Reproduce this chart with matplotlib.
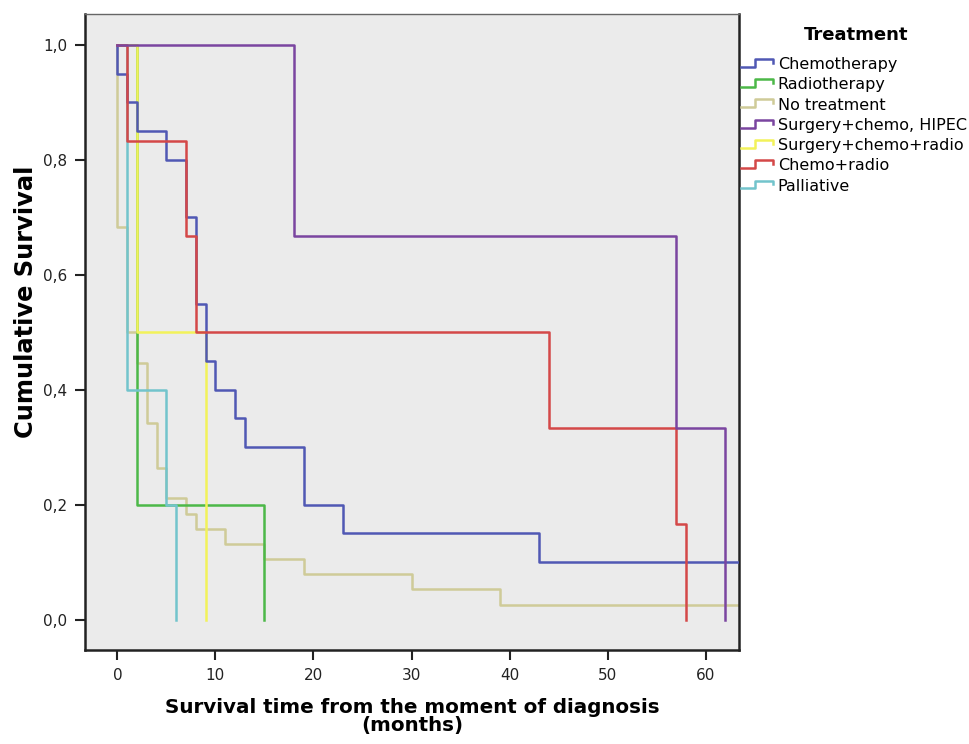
import matplotlib
matplotlib.use("Agg")
import matplotlib.pyplot as plt
from matplotlib.lines import Line2D
from matplotlib.legend_handler import HandlerBase
from matplotlib import font_manager

# ---- data (months, cumulative survival after each event) ----
groups = ["Chemotherapy", "Radiotherapy", "No treatment", "Surgery+chemo, HIPEC",
          "Surgery+chemo+radio", "Chemo+radio", "Palliative"]
colors = ["#5058b4", "#4cb848", "#cfcb98", "#7a45a0", "#f2f25a", "#d44848", "#72c4cc"]

chemo_times = [0, 1, 2, 5, 7, 8, 9, 10, 12, 13, 19, 23, 43, 66]
chemo_surv = [0.95, 0.90, 0.85, 0.80, 0.70, 0.55, 0.45, 0.40, 0.35, 0.30, 0.20, 0.15, 0.10, 0.10]

radio_times = [2, 15]
radio_surv = [0.20, 0.0]

none_times = [0, 1, 2, 3, 4, 5, 7, 8, 11, 15, 19, 30, 39, 66]
none_surv = [0.684, 0.500, 0.447, 0.342, 0.263, 0.211, 0.184, 0.158, 0.132, 0.105,
             0.079, 0.053, 0.026, 0.026]

hipec_times = [18, 57, 62]
hipec_surv = [0.667, 0.333, 0.0]

scr_times = [2, 9]
scr_surv = [0.5, 0.0]

chemoradio_times = [1, 7, 8, 44, 57, 58]
chemoradio_surv = [0.833, 0.667, 0.5, 0.333, 0.167, 0.0]

pall_times = [1, 5, 6]
pall_surv = [0.4, 0.2, 0.0]

series_times = [chemo_times, radio_times, none_times, hipec_times, scr_times,
                chemoradio_times, pall_times]
series_surv = [chemo_surv, radio_surv, none_surv, hipec_surv, scr_surv,
               chemoradio_surv, pall_surv]

x_ticks = [0, 10, 20, 30, 40, 50, 60]
y_ticks = [0.0, 0.2, 0.4, 0.6, 0.8, 1.0]

available = {f.name for f in font_manager.fontManager.ttflist}
cond = [f for f in ["DejaVu Sans Condensed", "Liberation Sans Narrow"] if f in available]
label_family = cond + ["DejaVu Sans"]

# ---- figure ----
fig = plt.figure(figsize=(9.7, 7.44), dpi=100)
ax = fig.add_axes([85 / 970, 1 - 650 / 744, (739 - 85) / 970, (650 - 14) / 744])
ax.set_facecolor("#ebebeb")

order = [2, 1, 6, 4, 0, 5, 3]
for i in order:
    xs = [0] + list(series_times[i])
    ys = [1.0] + list(series_surv[i])
    ax.step(xs, ys, where="post", color=colors[i], lw=1.8, zorder=2 + order.index(i))

ax.set_xlim(-3.3, 63.4)
ax.set_ylim(-0.053, 1.054)
ax.set_xticks(x_ticks)
ax.set_xticklabels([str(t) for t in x_ticks])
ax.set_yticks(y_ticks)
ax.set_yticklabels([f"{v:.1f}".replace(".", ",") for v in y_ticks])

ax.spines["top"].set_linewidth(1.0)
ax.spines["top"].set_color("#666666")
for s in ["left", "bottom", "right"]:
    ax.spines[s].set_linewidth(1.8)
    ax.spines[s].set_color("#222222")
ax.tick_params(axis="both", direction="out", length=7, width=1.5, labelsize=11,
               colors="#222222", pad=6)

ax.set_xlabel("Survival time from the moment of diagnosis\n(months)",
              fontsize=14.3, fontweight="bold", linespacing=0.9, labelpad=11,
              family=label_family)
ax.set_ylabel("Cumulative Survival", fontsize=17.4, fontweight="bold",
              family=label_family)
ax.yaxis.set_label_coords(-(85 - 38) / 654, (650 - 302) / 636)


class StepHandler(HandlerBase):
    def create_artists(self, legend, orig_handle, xdescent, ydescent, width, height,
                       fontsize, trans):
        x0 = -xdescent
        y0 = -ydescent
        xs = [x0, x0 + 0.45 * width, x0 + 0.45 * width, x0 + width, x0 + width]
        ys = [y0 + 0.2 * height, y0 + 0.2 * height, y0 + 0.9 * height,
              y0 + 0.9 * height, y0 + 0.55 * height]
        ln = Line2D(xs, ys, color=orig_handle.get_color(), lw=1.8)
        ln.set_transform(trans)
        return [ln]


handles = [Line2D([], [], color=c) for c in colors]
leg = fig.legend(handles, groups, loc="upper left", bbox_to_anchor=(741 / 970, 1 - 57 / 744),
                 frameon=False, fontsize=11.5,
                 handler_map={Line2D: StepHandler()}, handlelength=2.0,
                 handletextpad=0.3, labelspacing=0.33, borderaxespad=0.0,
                 borderpad=0.0)
fig.text(856 / 970, 1 - 35 / 744, "Treatment", ha="center", va="center",
         fontsize=13, fontweight="bold")

fig.savefig("out.png", dpi=100, facecolor="white")
